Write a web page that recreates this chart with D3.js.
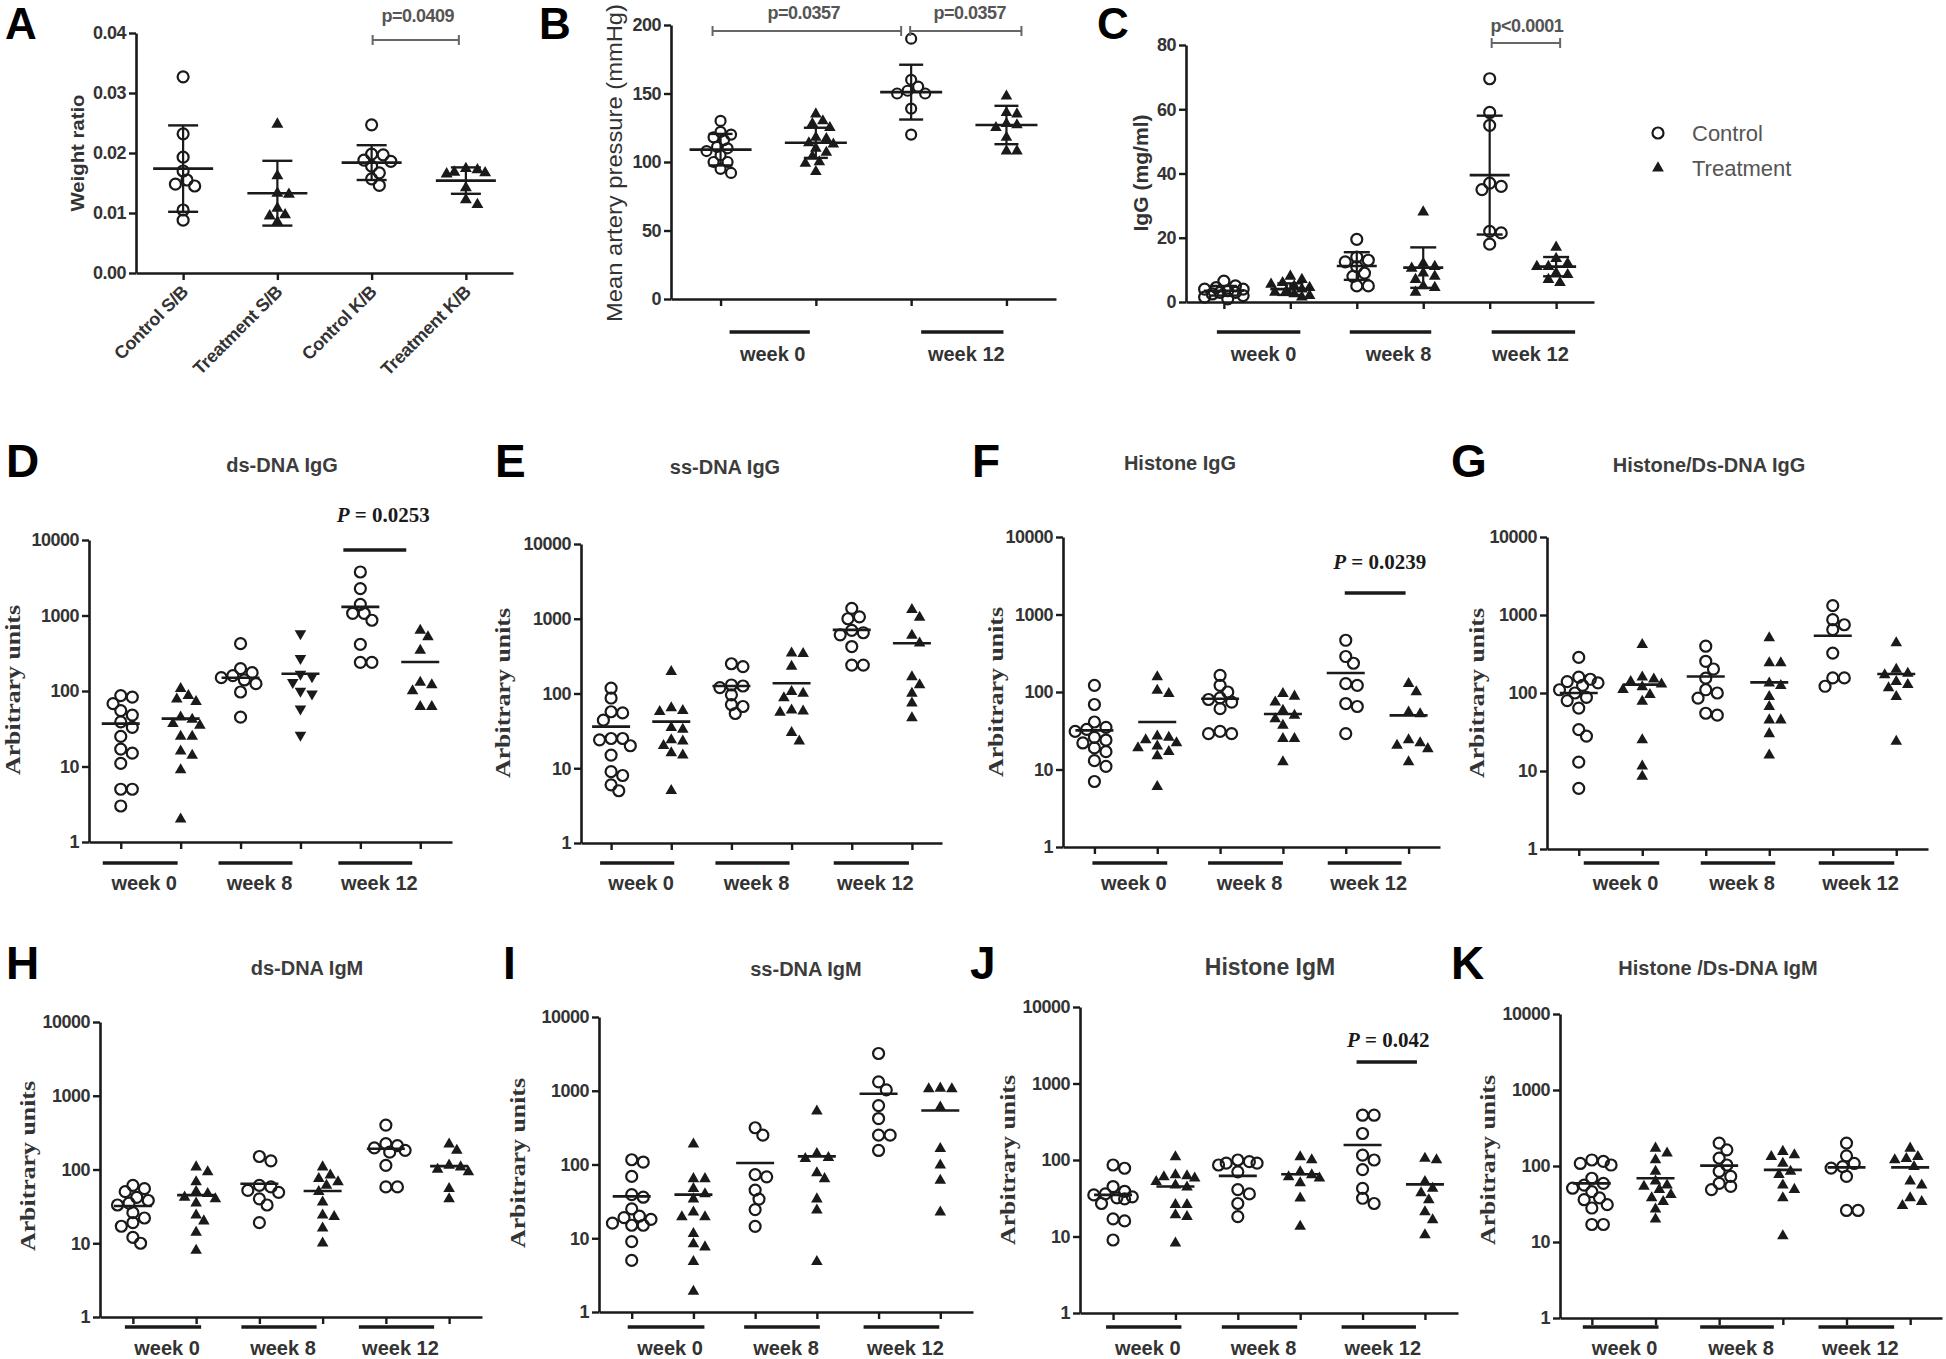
<!DOCTYPE html>
<html>
<head>
<meta charset="utf-8">
<script src="https://cdn.jsdelivr.net/npm/d3@7"></script>
<style>body{margin:0;background:#fff;}</style>
</head>
<body>
<script>
// ======================= DATA =======================
const weekLabels = ["week 0", "week 8", "week 12"];
const weekLabels2 = ["week 0", "week 12"];

// Panel A : weight ratio
const weightCategories = ["Control S/B", "Treatment S/B", "Control K/B", "Treatment K/B"];
const weightTicks = [0, 0.01, 0.02, 0.03, 0.04];
const weightControlSB = [0.0327, 0.0232, 0.0193, 0.0170, 0.0155, 0.0148, 0.0145, 0.0105, 0.0088];
const weightTreatmentSB = [0.0248, 0.0162, 0.0133, 0.0131, 0.0108, 0.0097, 0.0095, 0.0085];
const weightControlKB = [0.0247, 0.0198, 0.0197, 0.0188, 0.0186, 0.0178, 0.0167, 0.0157, 0.0146];
const weightTreatmentKB = [0.0174, 0.0172, 0.0168, 0.0167, 0.0165, 0.0142, 0.0122, 0.0114];
const weightMeans = [0.0174, 0.0133, 0.0184, 0.0154];
const weightSDs = [0.0072, 0.0054, 0.0029, 0.0022];

// Panel B : mean artery pressure
const mapTicks = [0, 50, 100, 150, 200];
const mapControl = [
  [130, 122, 120, 118, 116, 111, 110, 108, 105, 100, 100, 95, 92],
  [190, 160, 155, 152, 150, 150, 139, 120]
];
const mapTreatment = [
  [135, 130, 128, 125, 118, 117, 114, 113, 110, 107, 104, 100, 99, 93],
  [148, 136, 135, 128, 127, 125, 118, 108, 108]
];
const mapControlMean = [109, 151];
const mapControlSD = [11.5, 20];
const mapTreatmentMean = [114, 127];
const mapTreatmentSD = [11, 14];

// Panel C : IgG (mg/ml)
const iggTicks = [0, 20, 40, 60, 80];
const iggControl = [
  [6.5, 5, 4.5, 4, 4, 3.5, 3, 3, 2.5, 2, 1.5, 1],
  [19.5, 14, 13, 12.5, 11, 9, 8, 5, 5],
  [69.5, 59, 55, 37, 36, 35, 22, 21.5, 18]
];
const iggTreatment = [
  [8, 7, 6, 5.5, 5, 4.5, 4, 3.5, 3, 2.5, 2, 1.5],
  [28, 12, 11, 10.5, 9, 8, 7, 5, 4.5, 3],
  [17, 13.5, 12, 11, 11, 9, 8.5, 7, 6]
];
const iggControlMean = [3.5, 11.2, 39.5];
const iggControlSD = [1.5, 4.3, 18.5];
const iggTreatmentMean = [4.0, 10.7, 11.0];
const iggTreatmentSD = [1.8, 6.3, 3.0];

// Log panels (arbitrary units)
const logTicks = [1, 10, 100, 1000, 10000];

const dsDnaIgGControl = [[87, 83, 68, 55, 48, 39, 33, 25, 17, 15, 11, 5, 5, 3], [424, 198, 175, 160, 150, 140, 125, 97, 45], [3770, 2270, 1405, 1070, 1070, 865, 415, 240, 240]];
const dsDnaIgGTreatment = [[107, 87, 78, 72, 45, 42, 37, 35, 25, 25, 16, 14, 9, 2], [575, 270, 168, 155, 130, 100, 92, 58, 26], [635, 520, 345, 130, 120, 100, 62, 62]];
const dsDnaIgGControlMean = [37, 150, 1300];
const dsDnaIgGTreatmentMean = [43, 169, 242];

const ssDnaIgGControl = [[118, 87, 57, 55, 44, 25, 25, 24, 20, 15, 9, 8, 6, 5], [250, 229, 130, 126, 120, 96, 71, 67, 54], [1380, 1060, 1000, 700, 650, 610, 425, 240, 240]];
const ssDnaIgGTreatment = [[196, 64, 59, 57, 35, 33, 24, 23, 20, 16, 15, 5], [346, 340, 230, 106, 100, 87, 60, 58, 56, 30, 23], [1320, 1040, 600, 470, 167, 130, 100, 74, 47]];
const ssDnaIgGControlMean = [36, 126, 710];
const ssDnaIgGTreatmentMean = [42, 137, 470];

const histoneIgGControl = [[122, 69, 41, 35, 33, 31, 26, 24, 22, 19, 17, 13, 11, 7], [164, 122, 100, 84, 80, 74, 61, 31, 29, 29], [465, 287, 235, 128, 122, 71, 65, 29]];
const histoneIgGTreatment = [[156, 105, 95, 27, 26, 24, 22, 20, 19, 17, 15, 6], [95, 88, 74, 58, 50, 45, 37, 25, 25, 12.5], [128, 100, 55, 52, 24, 22, 20.5, 18.5, 12.5]];
const histoneIgGControlMean = [32, 82, 176];
const histoneIgGTreatmentMean = [41, 52, 50];

const histoneDsIgGControl = [[286, 160, 150, 140, 135, 125, 110, 100, 88, 80, 64, 34, 28, 13, 6], [398, 255, 203, 155, 110, 100, 86, 55, 52], [1320, 870, 750, 650, 325, 156, 156, 122]];
const histoneDsIgGTreatment = [[416, 160, 150, 140, 130, 120, 110, 95, 78, 25, 11.5, 8.5], [510, 243, 243, 134, 124, 90, 67, 45, 45, 30, 16], [440, 200, 178, 170, 140, 128, 116, 90, 24]];
const histoneDsIgGControlMean = [100, 163, 543];
const histoneDsIgGTreatmentMean = [128, 137, 175];

const dsDnaIgMControl = [[61, 55, 50, 42, 38, 35, 33, 26, 22, 19, 17, 12, 10], [150, 131, 61, 58, 52, 49, 40, 33, 19], [400, 224, 211, 196, 182, 172, 114, 58, 58]];
const dsDnaIgMTreatment = [[108, 93, 68, 50, 47, 42, 40, 35, 24, 20, 14, 8], [108, 84, 75, 68, 61, 50, 36, 24, 23, 16, 10], [220, 182, 114, 108, 100, 93, 55, 40]];
const dsDnaIgMControlMean = [32, 64, 191];
const dsDnaIgMTreatmentMean = [45, 51, 111];

const ssDnaIgMControl = [[116, 108, 69, 39, 36, 25, 20, 19, 18, 16, 15, 15, 9, 5], [315, 250, 73, 68, 45, 34, 24.5, 14.5], [3200, 1320, 1030, 630, 420, 250, 250, 155]];
const ssDnaIgMTreatment = [[188, 64, 64, 47, 40, 34, 22.6, 19.5, 19.5, 11.5, 8.4, 7.6, 4.8, 1.9], [530, 140, 124, 120, 77, 64, 34, 24, 4.8], [1080, 1060, 1060, 600, 164, 98, 61, 22.6]];
const ssDnaIgMControlMean = [37, 105, 910];
const ssDnaIgMTreatmentMean = [39, 129, 540];

const histoneIgMControl = [[86, 78, 45, 39, 36, 35, 33, 32, 31, 27, 17, 16, 9], [100, 95, 91, 91, 86, 70, 41, 36, 27, 18.2], [385, 385, 222, 116, 100, 75, 42.5, 31.6, 27]];
const histoneIgMTreatment = [[110, 64, 62, 60, 58, 52, 47, 44, 26, 26, 19.2, 18.2, 8.2], [110, 100, 70, 64, 60, 58, 50, 31.6, 13.5], [105, 100, 52, 42.5, 37, 30, 21, 16.5, 10.5]];
const histoneIgMControlMean = [35, 62, 157];
const histoneIgMTreatmentMean = [45, 65, 48];

const histoneDsIgMControl = [[120, 115, 108, 103, 69, 59, 56, 51, 46, 38, 36, 31, 28, 17, 17], [200, 163, 127, 103, 85, 73, 59, 54, 49], [200, 136, 108, 98, 94, 73, 26, 26]];
const histoneDsIgMTreatment = [[171, 148, 120, 85, 63, 56, 54, 49, 42, 38, 34, 27, 20], [155, 140, 133, 108, 85, 77, 56, 49, 38, 12], [171, 133, 125, 120, 98, 63, 56, 38, 34, 30]];
const histoneDsIgMControlMean = [59, 101, 96];
const histoneDsIgMTreatmentMean = [69, 89, 96];

// ======================= RENDER =======================
const W = 1946, H = 1359;
const SANS = "'Liberation Sans', Arial, Helvetica, sans-serif";
const SERIF = "'Liberation Serif', 'Times New Roman', serif";
const INK = "#1a1a1a";
const GREY = "#333";

const svg = d3.select("body").append("svg")
  .attr("width", W).attr("height", H)
  .style("display", "block").style("background", "#fff");

function swarm(pys, minD, step, maxW) {
  const order = pys.map((_, i) => i).sort((a, b) => pys[a] - pys[b]);
  const placed = [], off = new Array(pys.length).fill(0);
  const cands = [0];
  for (let k = 1; k * step <= maxW; k++) cands.push(k * step, -k * step);
  order.forEach(i => {
    const y = pys[i];
    let best = 0, bestD = -1;
    for (const c of cands) {
      let m = Infinity;
      for (const p of placed) { const d = Math.hypot(p.x - c, p.y - y); if (d < m) m = d; }
      if (m >= minD) { best = c; bestD = Infinity; break; }
      if (m > bestD) { bestD = m; best = c; }
    }
    off[i] = best; placed.push({ x: best, y });
  });
  return off;
}

function marker(g, shape, x, y, r, tri) {
  if (shape === "circle") {
    g.append("circle").attr("cx", x).attr("cy", y).attr("r", r)
      .attr("fill", "none").attr("stroke", INK).attr("stroke-width", 2.2);
  } else {
    g.append("path").attr("d", d3.symbol(d3.symbolTriangle, tri)())
      .attr("transform", `translate(${x},${y})` + (shape === "down" ? " rotate(180)" : ""))
      .attr("fill", INK);
  }
}

function txt(g, x, y, s, font, opts = {}) {
  const t = g.append("text").attr("x", x).attr("y", y).text(s)
    .style("font", font).attr("fill", opts.fill || GREY)
    .attr("text-anchor", opts.anchor || "start");
  if (opts.transform) t.attr("transform", opts.transform);
  return t;
}

function drawPanel(cfg) {
  const L = cfg.layout;
  const g = svg.append("g");
  const keys = cfg.columns.map((_, i) => "c" + i);
  const x = d3.scalePoint().domain(keys).range([L.x0, L.x1]).padding(L.pad);
  const y = (cfg.log ? d3.scaleLog() : d3.scaleLinear()).domain(cfg.domain).range([L.yBot, L.yTop]);
  const X = i => x(keys[i]);

  // y axis
  const ya = g.append("g").attr("transform", `translate(${L.x0},0)`)
    .call(d3.axisLeft(y).tickValues(cfg.ticks).tickFormat(cfg.fmt).tickSize(7).tickSizeOuter(0).tickPadding(3));
  ya.select(".domain").attr("stroke", INK).attr("stroke-width", 2.6);
  ya.selectAll(".tick line").attr("stroke", INK).attr("stroke-width", 2.4);
  ya.selectAll(".tick text").attr("fill", GREY).style("font", `bold ${L.tickFs || 18}px ${SANS}`).style("letter-spacing", "-0.5px");

  // x axis
  const xa = g.append("g").attr("transform", `translate(0,${L.yBot})`)
    .call(d3.axisBottom(x).tickSize(7).tickSizeOuter(0).tickFormat(""));
  xa.select(".domain").attr("stroke", INK).attr("stroke-width", 2.6);
  xa.selectAll(".tick line").attr("stroke", INK).attr("stroke-width", 2.4);

  // points, means, sd
  cfg.columns.forEach((col, i) => {
    const cx = X(i);
    const pys = col.values.map(v => y(v));
    const offs = swarm(pys, L.r * 1.75, L.r * 0.7, L.spread);
    col.values.forEach((v, j) => marker(g, col.shape, cx + offs[j], pys[j], L.r, L.tri));
    const my = y(col.mean);
    g.append("line").attr("x1", cx - L.meanHalf).attr("x2", cx + L.meanHalf)
      .attr("y1", my).attr("y2", my).attr("stroke", INK).attr("stroke-width", 2.6);
    if (col.sd != null) {
      const yu = y(col.mean + col.sd), yl = y(col.mean - col.sd);
      g.append("line").attr("x1", cx).attr("x2", cx).attr("y1", yu).attr("y2", yl)
        .attr("stroke", INK).attr("stroke-width", 2.2);
      [yu, yl].forEach(yy => g.append("line").attr("x1", cx - L.capHalf).attr("x2", cx + L.capHalf)
        .attr("y1", yy).attr("y2", yy).attr("stroke", INK).attr("stroke-width", 2.4));
    }
  });

  // group bars and week labels
  (cfg.groups || []).forEach((gr, gi) => {
    const xa1 = X(gr.a) + gr.dl, xa2 = X(gr.b) + gr.dr;
    g.append("line").attr("x1", xa1).attr("x2", xa2).attr("y1", L.barY).attr("y2", L.barY)
      .attr("stroke", INK).attr("stroke-width", 3.6);
    txt(g, (xa1 + xa2) / 2 + gr.ldx, L.labelY, gr.label, `bold ${L.weekFs || 20}px ${SANS}`, { anchor: "middle" });
  });

  // significance
  (cfg.sigs || []).forEach(s => {
    const s1 = X(s.a) + s.da, s2 = X(s.b) + s.db;
    if (s.kind === "bracket") {
      g.append("line").attr("x1", s1).attr("x2", s2).attr("y1", s.y).attr("y2", s.y)
        .attr("stroke", "#666").attr("stroke-width", 2);
      [s1, s2].forEach(xx => g.append("line").attr("x1", xx).attr("x2", xx)
        .attr("y1", s.y - 5).attr("y2", s.y + 5).attr("stroke", "#666").attr("stroke-width", 2));
      txt(g, (s1 + s2) / 2 + s.tdx, s.ty, s.text, `bold ${s.fs || 18}px ${SANS}`, { anchor: "middle", fill: "#555" })
        .style("letter-spacing", "-0.5px");
    } else {
      g.append("line").attr("x1", s1).attr("x2", s2).attr("y1", s.y).attr("y2", s.y)
        .attr("stroke", INK).attr("stroke-width", 3.6);
      const t = g.append("text").attr("x", (s1 + s2) / 2 + s.tdx).attr("y", s.ty)
        .attr("text-anchor", "middle").attr("fill", INK).style("font", `bold 21px ${SERIF}`);
      t.append("tspan").attr("font-style", "italic").text("P");
      t.append("tspan").text(" = " + s.text);
    }
  });

  // title
  if (cfg.title) txt(g, cfg.title.x, cfg.title.y, cfg.title.text, `bold ${cfg.title.fs || 20}px ${SANS}`, { anchor: "middle", fill: "#3c3c3c" });
  // panel letter
  txt(g, cfg.letter.x, cfg.letter.y, cfg.letter.text, `bold ${cfg.letter.fs || 46}px ${SANS}`, { fill: "#000" });
  // y label
  if (cfg.ylab) {
    const yl = cfg.ylab;
    txt(g, 0, 0, yl.text, yl.font, { anchor: "middle", fill: yl.fill || GREY, transform: `translate(${yl.x},${yl.y}) rotate(-90)` })
      .attr("dominant-baseline", "central")
      .attr("textLength", yl.len).attr("lengthAdjust", "spacingAndGlyphs");
  }
  return { g, X, y };
}

// ---------------- Panel A ----------------
const pA = drawPanel({
  columns: [
    { values: weightControlSB, shape: "circle", mean: weightMeans[0], sd: weightSDs[0] },
    { values: weightTreatmentSB, shape: "up", mean: weightMeans[1], sd: weightSDs[1] },
    { values: weightControlKB, shape: "circle", mean: weightMeans[2], sd: weightSDs[2] },
    { values: weightTreatmentKB, shape: "up", mean: weightMeans[3], sd: weightSDs[3] }
  ],
  log: false, domain: [0, 0.04], ticks: weightTicks, fmt: d3.format(".2f"),
  layout: { x0: 136, x1: 513, yTop: 33, yBot: 273, pad: 0.5, r: 5.5, tri: 62, spread: 22, meanHalf: 30, capHalf: 15 },
  sigs: [{ kind: "bracket", a: 2, b: 3, da: 1, db: -7, y: 40, text: "p=0.0409", tdx: 2, ty: 22 }],
  letter: { x: 5, y: 39, text: "A", fs: 44 },
  ylab: { text: "Weight ratio", x: 77, y: 153, len: 117, font: `bold 19px ${SANS}` }
});
weightCategories.forEach((c, i) => {
  txt(pA.g, 0, 0, c, `bold 18px ${SANS}`, { anchor: "end", transform: `translate(${pA.X(i) + 6},${273 + 20}) rotate(-45)` })
    .style("letter-spacing", "-0.3px");
});

// ---------------- Panel B ----------------
drawPanel({
  columns: [
    { values: mapControl[0], shape: "circle", mean: mapControlMean[0], sd: mapControlSD[0] },
    { values: mapTreatment[0], shape: "up", mean: mapTreatmentMean[0], sd: mapTreatmentSD[0] },
    { values: mapControl[1], shape: "circle", mean: mapControlMean[1], sd: mapControlSD[1] },
    { values: mapTreatment[1], shape: "up", mean: mapTreatmentMean[1], sd: mapTreatmentSD[1] }
  ],
  log: false, domain: [0, 200], ticks: mapTicks, fmt: d3.format("d"),
  layout: { x0: 671, x1: 1056, yTop: 25, yBot: 299, pad: 0.52, r: 5, tri: 58, spread: 28, meanHalf: 31, capHalf: 12, barY: 332, labelY: 361 },
  groups: [
    { a: 0, b: 1, dl: 9, dr: -6, ldx: 3, label: weekLabels2[0] },
    { a: 2, b: 3, dl: 10, dr: -3, ldx: 4, label: weekLabels2[1] }
  ],
  sigs: [
    { kind: "bracket", a: 0, b: 2, da: -8, db: -10, y: 31, text: "p=0.0357", tdx: -3, ty: 19 },
    { kind: "bracket", a: 2, b: 3, da: -1, db: 15, y: 31, text: "p=0.0357", tdx: 4, ty: 19 }
  ],
  letter: { x: 539, y: 39, text: "B", fs: 44 },
  ylab: { text: "Mean artery pressure (mmHg)", x: 614, y: 163, len: 318, font: `22px ${SANS}` }
});

// ---------------- Panel C ----------------
drawPanel({
  columns: [0, 1, 2].flatMap(w => [
    { values: iggControl[w], shape: "circle", mean: iggControlMean[w], sd: iggControlSD[w] },
    { values: iggTreatment[w], shape: "up", mean: iggTreatmentMean[w], sd: iggTreatmentSD[w] }
  ]),
  log: false, domain: [0, 80], ticks: iggTicks, fmt: d3.format("d"),
  layout: { x0: 1186, x1: 1594, yTop: 45, yBot: 302, pad: 0.57, r: 5.5, tri: 60, spread: 20, meanHalf: 20, capHalf: 13, barY: 332, labelY: 361 },
  groups: [
    { a: 0, b: 1, dl: -7, dr: 10, ldx: 5, label: weekLabels[0] },
    { a: 2, b: 3, dl: -7, dr: 8, ldx: 8, label: weekLabels[1] },
    { a: 4, b: 5, dl: 2, dr: 19, ldx: -3, label: weekLabels[2] }
  ],
  sigs: [{ kind: "bracket", a: 4, b: 5, da: 2, db: 4, y: 43, text: "p<0.0001", tdx: 1, ty: 32 }],
  letter: { x: 1097, y: 39, text: "C", fs: 44 },
  ylab: { text: "IgG (mg/ml)", x: 1141, y: 173, len: 117, font: `bold 20px ${SANS}` }
});

// legend
const lg = svg.append("g");
marker(lg, "circle", 1658, 133, 5.5, 60);
marker(lg, "up", 1658, 168, 5.5, 60);
txt(lg, 1692, 141, "Control", `22px ${SANS}`, { fill: "#555" });
txt(lg, 1692, 176, "Treatment", `22px ${SANS}`, { fill: "#555" });

// ---------------- Log panels ----------------
const logPanels = [
  { letter: "D", title: "ds-DNA IgG", ctrl: dsDnaIgGControl, trt: dsDnaIgGTreatment, cm: dsDnaIgGControlMean, tm: dsDnaIgGTreatmentMean,
    trtShapes: ["up", "down", "up"],
    L: { x0: 89, x1: 452, yTop: 540, yBot: 842, pad: 0.53, barY: 863, labelY: 890 }, bars: [[-18, -3], [-22, -8], [-22, -8]],
    titleXY: [282, 472], letterXY: [6, 477], ylabXY: [13, 690],
    sig: { a: 4, b: 5, da: -17, db: -14, y: 550, text: "0.0253", tdx: 8.5, ty: 522 } },
  { letter: "E", title: "ss-DNA IgG", ctrl: ssDnaIgGControl, trt: ssDnaIgGTreatment, cm: ssDnaIgGControlMean, tm: ssDnaIgGTreatmentMean,
    L: { x0: 581, x1: 942, yTop: 544, yBot: 843, pad: 0.5, barY: 863, labelY: 890 }, bars: [[-11, 3], [-16, -2], [-18, -3]],
    titleXY: [725, 474], letterXY: [495, 477], ylabXY: [503, 693] },
  { letter: "F", title: "Histone IgG", ctrl: histoneIgGControl, trt: histoneIgGTreatment, cm: histoneIgGControlMean, tm: histoneIgGTreatmentMean,
    L: { x0: 1063, x1: 1440, yTop: 537, yBot: 847, pad: 0.5, barY: 863, labelY: 890 }, bars: [[-2, 10], [-12, 0], [-18, -7]],
    titleXY: [1180, 470], letterXY: [972, 477], ylabXY: [996, 692],
    sig: { a: 4, b: 5, da: -1, db: -3, y: 593, text: "0.0239", tdx: 4.5, ty: 569 } },
  { letter: "G", title: "Histone/Ds-DNA IgG", ctrl: histoneDsIgGControl, trt: histoneDsIgGTreatment, cm: histoneDsIgGControlMean, tm: histoneDsIgGTreatmentMean,
    L: { x0: 1547, x1: 1928, yTop: 537, yBot: 849, pad: 0.5, barY: 863, labelY: 890 }, bars: [[5, 17], [-5, 6], [-14, -2]],
    titleXY: [1709, 472], letterXY: [1451, 477], ylabXY: [1477, 693] },
  { letter: "H", title: "ds-DNA IgM", ctrl: dsDnaIgMControl, trt: dsDnaIgMTreatment, cm: dsDnaIgMControlMean, tm: dsDnaIgMTreatmentMean,
    L: { x0: 100, x1: 482, yTop: 1022, yBot: 1317, pad: 0.52, barY: 1327, labelY: 1355 }, bars: [[-8, 5], [-18, -6], [-27, -15]],
    titleXY: [307, 975], letterXY: [6, 979], ylabXY: [28, 1166] },
  { letter: "I", title: "ss-DNA IgM", ctrl: ssDnaIgMControl, trt: ssDnaIgMTreatment, cm: ssDnaIgMControlMean, tm: ssDnaIgMTreatmentMean,
    L: { x0: 599, x1: 973, yTop: 1017, yBot: 1312, pad: 0.53, barY: 1327, labelY: 1355 }, bars: [[-4, 11], [-11, 3], [-15, -1]],
    titleXY: [806, 976], letterXY: [503, 979], ylabXY: [518, 1163] },
  { letter: "J", title: "Histone IgM", titleFs: 23, ctrl: histoneIgMControl, trt: histoneIgMTreatment, cm: histoneIgMControlMean, tm: histoneIgMTreatmentMean,
    L: { x0: 1080, x1: 1458, yTop: 1007, yBot: 1313, pad: 0.53, barY: 1327, labelY: 1355 }, bars: [[-7, 6], [-16, -3], [-21, -9]],
    titleXY: [1270, 975], letterXY: [970, 979], ylabXY: [1008, 1160],
    sig: { a: 4, b: 5, da: -6, db: -8, y: 1062, text: "0.042", tdx: 1.5, ty: 1047 } },
  { letter: "K", title: "Histone /Ds-DNA IgM", ctrl: histoneDsIgMControl, trt: histoneDsIgMTreatment, cm: histoneDsIgMControlMean, tm: histoneDsIgMTreatmentMean,
    L: { x0: 1560, x1: 1942, yTop: 1014, yBot: 1318, pad: 0.5, barY: 1327, labelY: 1355 }, bars: [[-9, 3], [-19, -9], [-28, -16]],
    titleXY: [1718, 975], letterXY: [1451, 979], ylabXY: [1488, 1160] }
];

logPanels.forEach(p => {
  const L = Object.assign({ r: 5.5, tri: 58, spread: 20, meanHalf: 19 }, p.L);
  drawPanel({
    columns: [0, 1, 2].flatMap(w => [
      { values: p.ctrl[w], shape: "circle", mean: p.cm[w] },
      { values: p.trt[w], shape: (p.trtShapes ? p.trtShapes[w] : "up"), mean: p.tm[w] }
    ]),
    log: true, domain: [1, 10000], ticks: logTicks, fmt: d3.format("d"),
    layout: L,
    groups: [0, 1, 2].map(w => ({ a: 2 * w, b: 2 * w + 1, dl: p.bars[w][0], dr: p.bars[w][1], ldx: 4, label: weekLabels[w] })),
    sigs: p.sig ? [Object.assign({ kind: "bar" }, p.sig)] : [],
    title: { x: p.titleXY[0], y: p.titleXY[1], text: p.title, fs: p.titleFs || 20 },
    letter: { x: p.letterXY[0], y: p.letterXY[1], text: p.letter, fs: 46 },
    ylab: { text: "Arbitrary units", x: p.ylabXY[0], y: p.ylabXY[1], len: 170, font: `bold 20px ${SERIF}` }
  });
});
</script>
</body>
</html>
